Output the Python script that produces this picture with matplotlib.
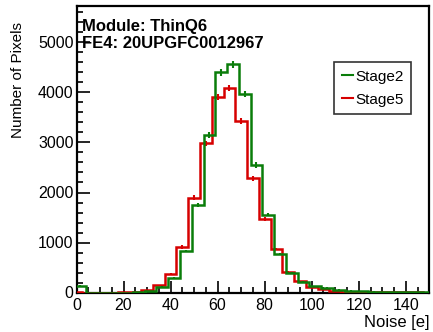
import matplotlib
matplotlib.use("Agg")
import matplotlib.pyplot as plt
from matplotlib.lines import Line2D
import numpy as np

plt.rcParams['font.family'] = ['Liberation Sans', 'DejaVu Sans']

# Stage5 (red): 5 e bins starting at -2.5
stage5_start = -2.5
stage5_counts = [10, 0, 0, 0, 5, 20, 50, 145, 370, 910, 1900, 2980, 3910, 4085,
                 3430, 2285, 1465, 870, 410, 225, 105, 70, 40, 20, 12, 8, 5, 3,
                 2, 1, 0]
# Stage2 (green): 5 e bins starting at -1
stage2_start = -1.0
stage2_counts = [140, 0, 0, 0, 0, 5, 30, 110, 290, 830, 1750, 3150, 4400, 4560,
                 3975, 2550, 1560, 770, 395, 215, 127, 93, 60, 40, 27, 20, 15,
                 10, 8, 5, 3]
bin_width = 5.0

green = '#0a7d0a'
red = '#d60000'

fig = plt.figure(figsize=(4.33, 3.32), dpi=100)
ax = fig.add_axes([76.5 / 433, 1 - 292.5 / 332, (429.3 - 76.5) / 433, 286 / 332])


def draw_hist(start, counts, color, z):
    counts = np.array(counts, dtype=float)
    edges = start + bin_width * np.arange(len(counts) + 1)
    centers = 0.5 * (edges[:-1] + edges[1:])
    ax.stairs(counts, edges, color=color, lw=1.8, zorder=z)
    # sqrt(N) error bars at the bin centres, ROOT style
    ax.errorbar(centers, counts, yerr=np.sqrt(counts), fmt='none',
                ecolor=color, elinewidth=1.5, zorder=z)


draw_hist(stage5_start, stage5_counts, red, 3)
draw_hist(stage2_start, stage2_counts, green, 4)

ax.set_xlim(0, 150)
ax.set_ylim(0, 5720)
ax.set_xticks(np.arange(0, 141, 20))
ax.set_xticks(np.arange(0, 151, 5), minor=True)
ax.set_yticks(np.arange(0, 5001, 1000))
ax.set_yticks(np.arange(0, 5701, 200), minor=True)
ax.tick_params(which='both', direction='in', top=False, right=False,
               width=1.2, labelsize=11.5)
ax.tick_params(which='major', length=9)
ax.tick_params(which='minor', length=4.5)
ax.tick_params(axis='x', pad=4)
ax.tick_params(axis='y', pad=2)
for s in ax.spines.values():
    s.set_linewidth(1.6)

fig.text(18 / 433, 1 - 80 / 332, 'Number of Pixels', rotation=90,
         ha='center', va='center', fontsize=11)
fig.text(429 / 433, 1 - 322 / 332, 'Noise [e]', ha='right', va='center',
         fontsize=12)

fig.text(82 / 433, 1 - 26 / 332, 'Module: ThinQ6', ha='left', va='center',
         fontsize=12, weight='bold')
fig.text(82 / 433, 1 - 44 / 332, 'FE4: 20UPGFC0012967', ha='left',
         va='center', fontsize=12, weight='bold')

handles = [Line2D([], [], color=green, lw=1.5),
           Line2D([], [], color=red, lw=1.5)]
leg = fig.legend(handles, ['Stage2', 'Stage5'], loc='upper left',
                 bbox_to_anchor=(334 / 433, 1 - 62 / 332), fontsize=11,
                 frameon=True, fancybox=False, edgecolor='black',
                 handlelength=0.75, handletextpad=0.15, borderpad=0.5,
                 labelspacing=0.6, borderaxespad=0)
leg.get_frame().set_linewidth(1.2)

fig.savefig('out.png', dpi=100)
